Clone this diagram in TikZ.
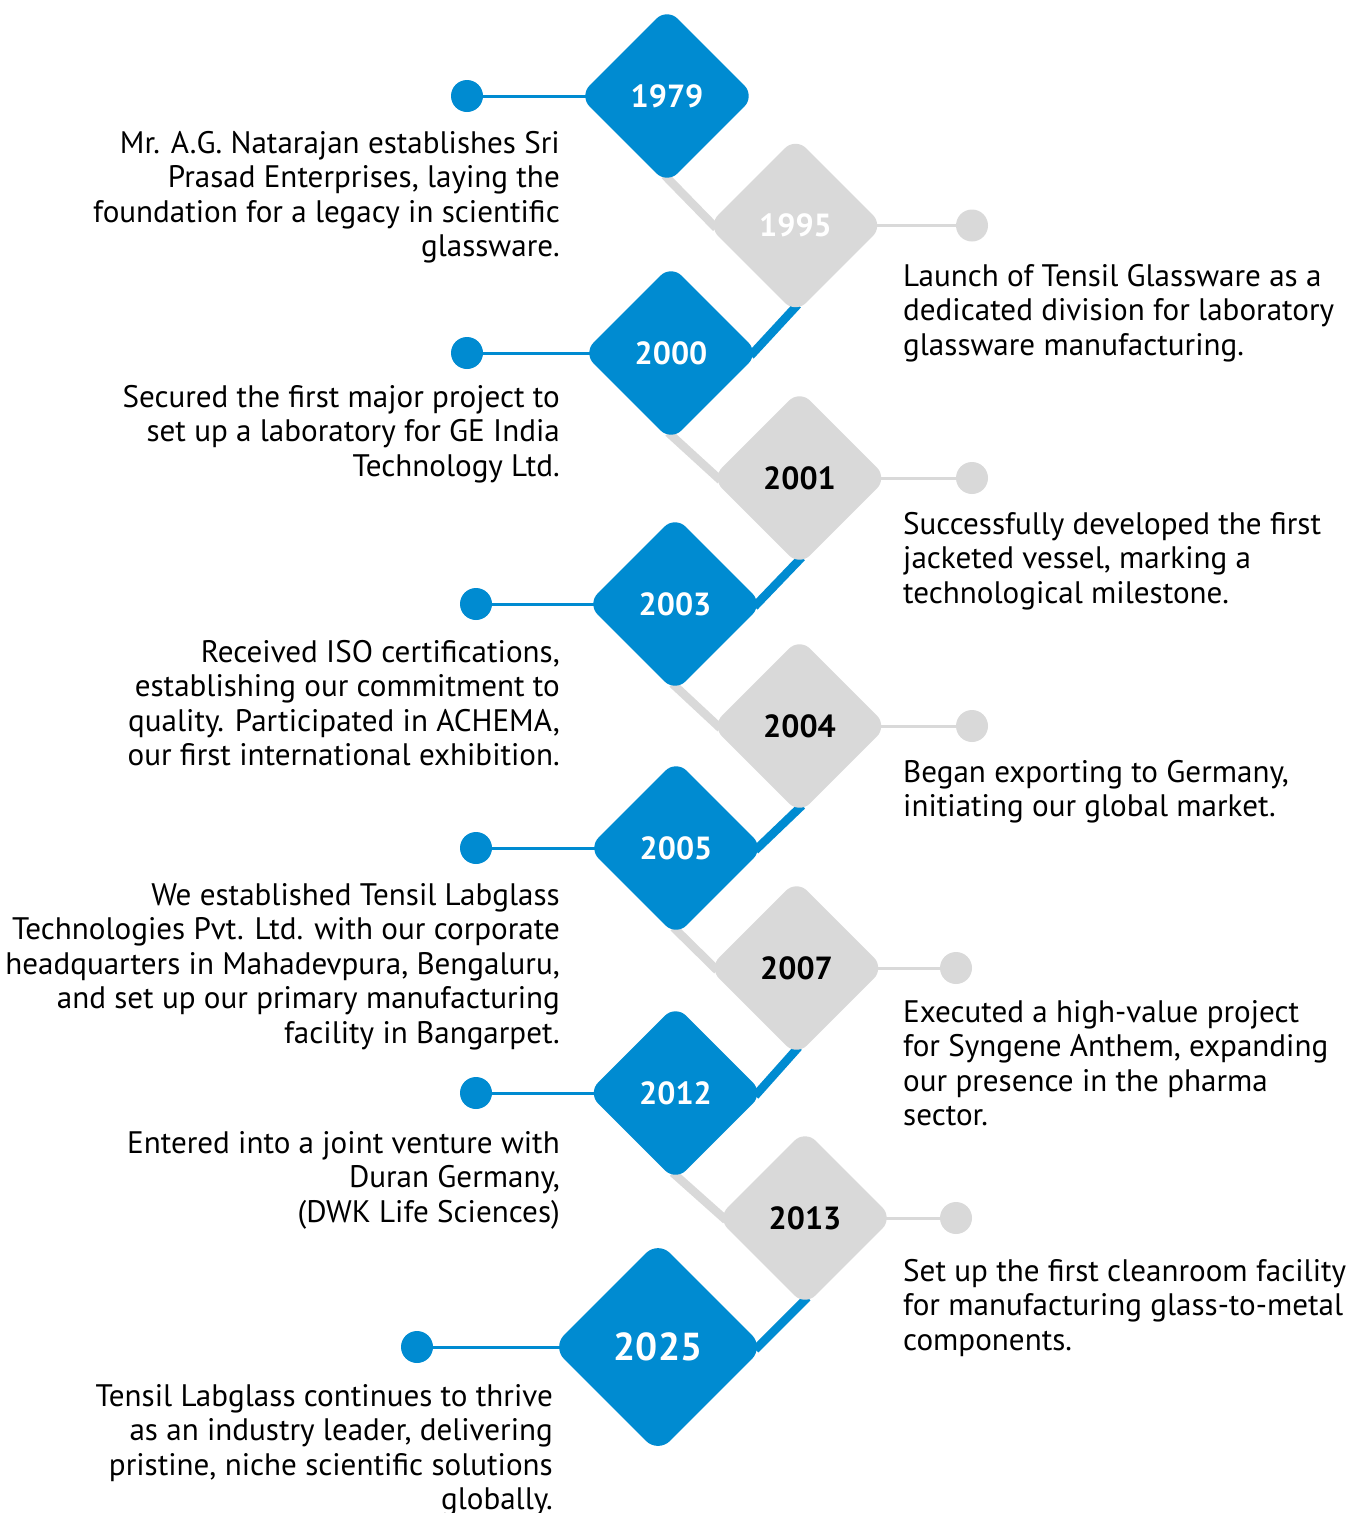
\documentclass[tikz,border=0pt]{standalone}
\usepackage{fontspec}
\setmainfont{PT Sans}
\usetikzlibrary{shapes.geometric,backgrounds}
\definecolor{tblue}{HTML}{008BD1}
\definecolor{tgray}{HTML}{D9D9D9}
\newcommand{\txtfont}{\fontsize{31.1}{34.5}\selectfont}
\newcommand{\fl}{\rule{0pt}{25pt}}
\begin{document}
\begin{tikzpicture}[x=1pt,y=-1pt,
 yr/.style={diamond, aspect=1, inner sep=0pt, minimum width=176pt, minimum height=176pt, rounded corners=15pt, font=\bfseries\fontsize{32}{38}\selectfont},
 byr/.style={yr, fill=tblue, text=white},
 gyr/.style={yr, fill=tgray, text=black},
 bdot/.style={circle, fill=tblue, minimum size=32pt, inner sep=0pt},
 gdot/.style={circle, fill=tgray, minimum size=32pt, inner sep=0pt},
 bthin/.style={draw=tblue, line width=3pt},
 gthin/.style={draw=tgray, line width=3pt},
 bthick/.style={draw=tblue, line width=8.5pt, shorten <=-8pt, shorten >=-8pt},
 gthick/.style={draw=tgray, line width=8.5pt, shorten <=-8pt, shorten >=-8pt},
 ltxt/.style={anchor=north east, align=right, inner sep=0pt, font=\txtfont},
 rtxt/.style={anchor=north west, align=left, inner sep=0pt, font=\txtfont}]
\useasboundingbox (0,0) rectangle (1351,1513);

% diamonds
\node[byr] (y1979) at (667,96) {1979};
\node[gyr, text=white] (y1995) at (795.5,225.5) {1995};
\node[byr] (y2000) at (671,353) {2000};
\node[gyr] (y2001) at (799.5,478) {2001};
\node[byr] (y2003) at (675,604) {2003};
\node[gyr] (y2004) at (799.5,726) {2004};
\node[byr] (y2005) at (676,848) {2005};
\node[gyr] (y2007) at (796.5,968) {2007};
\node[byr] (y2012) at (675.5,1093) {2012};
\node[gyr] (y2013) at (805,1218) {2013};
\node[byr, minimum width=212pt, minimum height=212pt, rounded corners=17pt, font=\bfseries\fontsize{39}{46}\selectfont] (y2025) at (658,1347) {2025};

% dots
\node[bdot] (d1979) at (467,96) {};
\node[gdot] (d1995) at (972,225.5) {};
\node[bdot] (d2000) at (467,353) {};
\node[gdot] (d2001) at (972,478) {};
\node[bdot] (d2003) at (476,604) {};
\node[gdot] (d2004) at (972,726) {};
\node[bdot] (d2005) at (476,848) {};
\node[gdot] (d2007) at (956,968) {};
\node[bdot] (d2012) at (476,1093) {};
\node[gdot] (d2013) at (956,1218) {};
\node[bdot] (d2025) at (417,1347) {};

\begin{scope}[on background layer]
\draw[gthick] ([shift={(3.2,-3.2)}]y1979.south) -- ([shift={(3.2,-3.2)}]y1995.west);
\draw[gthick] ([shift={(3.2,-3.2)}]y2000.south) -- ([shift={(3.2,-3.2)}]y2001.west);
\draw[gthick] ([shift={(3.2,-3.2)}]y2003.south) -- ([shift={(3.2,-3.2)}]y2004.west);
\draw[gthick] ([shift={(3.2,-3.2)}]y2005.south) -- ([shift={(3.2,-3.2)}]y2007.west);
\draw[gthick] ([shift={(3.2,-3.2)}]y2012.south) -- ([shift={(3.2,-3.2)}]y2013.west);
\draw[bthick] ([shift={(-3.2,-3.2)}]y1995.south) -- ([shift={(-3.2,-3.2)}]y2000.east);
\draw[bthick] ([shift={(-3.2,-3.2)}]y2001.south) -- ([shift={(-3.2,-3.2)}]y2003.east);
\draw[bthick] ([shift={(-3.2,-3.2)}]y2004.south) -- ([shift={(-3.2,-3.2)}]y2005.east);
\draw[bthick] ([shift={(-3.2,-3.2)}]y2007.south) -- ([shift={(-3.2,-3.2)}]y2012.east);
\draw[bthick] ([shift={(-3.2,-3.2)}]y2013.south) -- ([shift={(-3.2,-3.2)}]y2025.east);
\draw[bthin] (d1979.center) -- (y1979.center);
\draw[bthin] (d2000.center) -- (y2000.center);
\draw[bthin] (d2003.center) -- (y2003.center);
\draw[bthin] (d2005.center) -- (y2005.center);
\draw[bthin] (d2012.center) -- (y2012.center);
\draw[bthin] (d2025.center) -- (y2025.center);
\draw[gthin] (y1995.center) -- (d1995.center);
\draw[gthin] (y2001.center) -- (d2001.center);
\draw[gthin] (y2004.center) -- (d2004.center);
\draw[gthin] (y2007.center) -- (d2007.center);
\draw[gthin] (y2013.center) -- (d2013.center);
\end{scope}

% left texts
\node[ltxt] (t1979) at (560,128) {\fl Mr. A.G. Natarajan establishes Sri\\Prasad Enterprises, laying the\\foundation for a legacy in scientific\hspace*{0.25em}\\glassware.};
\node[ltxt] (t2000) at (560,382) {\fl Secured the first major project to\\set up a laboratory for GE India\\Technology Ltd.};
\node[ltxt] (t2003) at (560,637) {\fl Received ISO certifications,\\establishing our commitment to\\quality. Participated in ACHEMA,\\our first international exhibition.};
\node[ltxt] (t2005) at (560,880) {\fl We established Tensil Labglass\\Technologies Pvt. Ltd. with our corporate\\headquarters in Mahadevpura, Bengaluru,\\and set up our primary manufacturing\\facility in Bangarpet.};
\node[ltxt] (t2012) at (560,1128) {\fl Entered into a joint venture with\\Duran Germany,\\(DWK Life Sciences)};
\node[ltxt] (t2025) at (553,1381) {\fl Tensil Labglass continues to thrive\\as an industry leader, delivering\\pristine, niche scientific solutions\\globally.};

% right texts
\node[rtxt] (t1995) at (903,261) {\fl Launch of Tensil Glassware as a\\dedicated division for laboratory\\glassware manufacturing.};
\node[rtxt] (t2001) at (903,509) {\fl Successfully developed the first\\jacketed vessel, marking a\\technological milestone.};
\node[rtxt] (t2004) at (903,757) {\fl Began exporting to Germany,\\initiating our global market.};
\node[rtxt] (t2007) at (903,997) {\fl Executed a high-value project\\for Syngene Anthem, expanding\\our presence in the pharma\\sector.};
\node[rtxt] (t2013) at (903,1256) {\fl Set up the first cleanroom facility\\for manufacturing glass-to-metal\\components.};
\end{tikzpicture}
\end{document}
